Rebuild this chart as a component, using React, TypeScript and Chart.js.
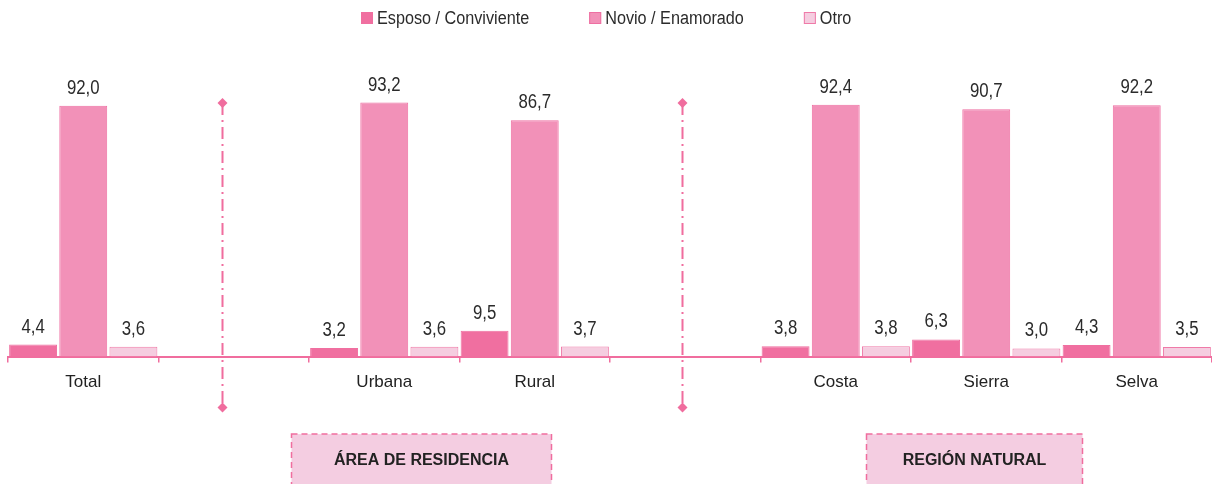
import React, { useEffect, useRef } from "react";
import { Chart, registerables } from "chart.js";

Chart.register(...registerables);

const categories = ["Total", "", "Urbana", "Rural", "", "Costa", "Sierra", "Selva"];
const esposo = [4.4, null, 3.2, 9.5, null, 3.8, 6.3, 4.3];
const novio = [92.0, null, 93.2, 86.7, null, 92.4, 90.7, 92.2];
const otro = [3.6, null, 3.6, 3.7, null, 3.8, 3.0, 3.5];
const seriesNames = ["Esposo / Conviviente", "Novio / Enamorado", "Otro"];
const groupLabels = ["ÁREA DE RESIDENCIA", "REGIÓN NATURAL"];

const FONT = "'Liberation Sans', Arial, sans-serif";
const PINK = "#F06D9E";
const FILLS = ["#F06FA0", "#F291B8", "#F5CDE0"];
const BORDERS = ["#F06FA0", "#EE6FA2", "#EF7AA8"];

function narrowText(ctx: CanvasRenderingContext2D, text: string, x: number, y: number, sx: number) {
  ctx.save();
  ctx.translate(x, y);
  ctx.scale(sx, 1);
  ctx.fillText(text, 0, 0);
  ctx.restore();
}

export default function App() {
  const ref = useRef<HTMLCanvasElement | null>(null);

  useEffect(() => {
    document.body.style.margin = "0";
    const canvas = ref.current;
    if (!canvas) return;

    const decorations = {
      id: "decorations",
      afterDatasetsDraw(chart: any) {
        const ctx = chart.ctx;
        const xs = chart.scales.x;
        const ys = chart.scales.y;
        const area = chart.chartArea;

        // value labels
        ctx.save();
        ctx.font = `20px ${FONT}`;
        ctx.fillStyle = "#2b2b2b";
        ctx.textAlign = "center";
        ctx.textBaseline = "alphabetic";
        chart.data.datasets.forEach((ds: any, di: number) => {
          const meta = chart.getDatasetMeta(di);
          meta.data.forEach((el: any, i: number) => {
            const v = ds.data[i];
            if (v === null || v === undefined) return;
            narrowText(ctx, v.toFixed(1).replace(".", ","), el.x, el.y - 12, 0.84);
          });
        });
        ctx.restore();

        // legend
        ctx.save();
        const sx = 0.9;
        ctx.font = `18px ${FONT}`;
        const box = 12;
        const gapText = 4;
        const gapItem = 60;
        const widths = seriesNames.map((n) => ctx.measureText(n).width * sx);
        const total =
          widths.reduce((a: number, w: number) => a + box + gapText + w, 0) +
          gapItem * (seriesNames.length - 1);
        let x = Math.round(chart.width / 2 - total / 2);
        const cy = 18;
        ctx.textBaseline = "middle";
        ctx.textAlign = "left";
        seriesNames.forEach((n, i) => {
          ctx.fillStyle = FILLS[i];
          ctx.fillRect(x, cy - box / 2, box, box);
          ctx.strokeStyle = BORDERS[i];
          ctx.lineWidth = 1;
          ctx.strokeRect(x + 0.5, cy - box / 2 + 0.5, box - 1, box - 1);
          ctx.fillStyle = "#2b2b2b";
          narrowText(ctx, n, x + box + gapText, cy + 1, sx);
          x += box + gapText + widths[i] + gapItem;
        });
        ctx.restore();

        // dividers
        const dividerPos = [0.92, 3.98];
        dividerPos.forEach((p) => {
          const dx = Math.round(xs.getPixelForValue(p)) + 0.5;
          const top = ys.getPixelForValue(93);
          const bottom = area.bottom + 51;
          ctx.save();
          ctx.strokeStyle = PINK;
          ctx.lineWidth = 2;
          ctx.setLineDash([12, 5, 2, 5]);
          ctx.beginPath();
          ctx.moveTo(dx, top);
          ctx.lineTo(dx, bottom);
          ctx.stroke();
          ctx.setLineDash([]);
          ctx.fillStyle = PINK;
          [top, bottom].forEach((y: number) => {
            ctx.beginPath();
            ctx.moveTo(dx, y - 5);
            ctx.lineTo(dx + 5, y);
            ctx.lineTo(dx, y + 5);
            ctx.lineTo(dx - 5, y);
            ctx.closePath();
            ctx.fill();
          });
          ctx.restore();
        });

        // group boxes
        const boxes = [
          { from: 1.38, to: 3.11, label: groupLabels[0] },
          { from: 5.2, to: 6.635, label: groupLabels[1] },
        ];
        boxes.forEach((b) => {
          const x1 = Math.round(xs.getPixelForValue(b.from)) + 0.5;
          const x2 = Math.round(xs.getPixelForValue(b.to)) + 0.5;
          const y1 = area.bottom + 77.5;
          const y2 = chart.height + 2;
          ctx.save();
          ctx.fillStyle = "#F4CDE1";
          ctx.fillRect(x1, y1, x2 - x1, y2 - y1);
          ctx.strokeStyle = PINK;
          ctx.lineWidth = 1.5;
          ctx.setLineDash([6, 4]);
          ctx.strokeRect(x1, y1, x2 - x1, y2 - y1);
          ctx.setLineDash([]);
          ctx.fillStyle = "#222222";
          ctx.font = `bold 16px ${FONT}`;
          ctx.textAlign = "center";
          ctx.textBaseline = "middle";
          ctx.fillText(b.label, (x1 + x2) / 2, area.bottom + 104);
          ctx.restore();
        });
      },
    };

    const chart = new Chart(canvas, {
      type: "bar",
      data: {
        labels: categories,
        datasets: [
          {
            label: seriesNames[0],
            data: esposo,
            backgroundColor: FILLS[0],
            borderColor: BORDERS[0],
            borderWidth: 1,
          },
          {
            label: seriesNames[1],
            data: novio,
            backgroundColor: FILLS[1],
            borderColor: BORDERS[1],
            borderWidth: 1,
          },
          {
            label: seriesNames[2],
            data: otro,
            backgroundColor: FILLS[2],
            borderColor: BORDERS[2],
            borderWidth: 1,
          },
        ],
      },
      options: {
        responsive: false,
        animation: false,
        layout: { padding: { left: 8, right: 0, top: 84, bottom: 81 } },
        datasets: { bar: { categoryPercentage: 1, barPercentage: 0.955 } },
        plugins: {
          legend: { display: false },
          tooltip: { enabled: false },
        },
        scales: {
          x: {
            grid: {
              display: true,
              drawOnChartArea: false,
              drawTicks: true,
              tickLength: 6,
              color: PINK,
              lineWidth: 1.5,
              offset: true,
            },
            border: { display: true, color: PINK, width: 2 },
            ticks: {
              color: "#222222",
              font: { family: FONT, size: 17 },
              padding: 10,
              maxRotation: 0,
              autoSkip: false,
            },
          },
          y: {
            display: false,
            min: 0,
            max: 100,
          },
        },
      },
      plugins: [decorations],
    });

    return () => chart.destroy();
  }, []);

  return (
    <div style={{ width: 1212, height: 484 }}>
      <canvas ref={ref} width={1212} height={484} style={{ display: "block" }} />
    </div>
  );
}
